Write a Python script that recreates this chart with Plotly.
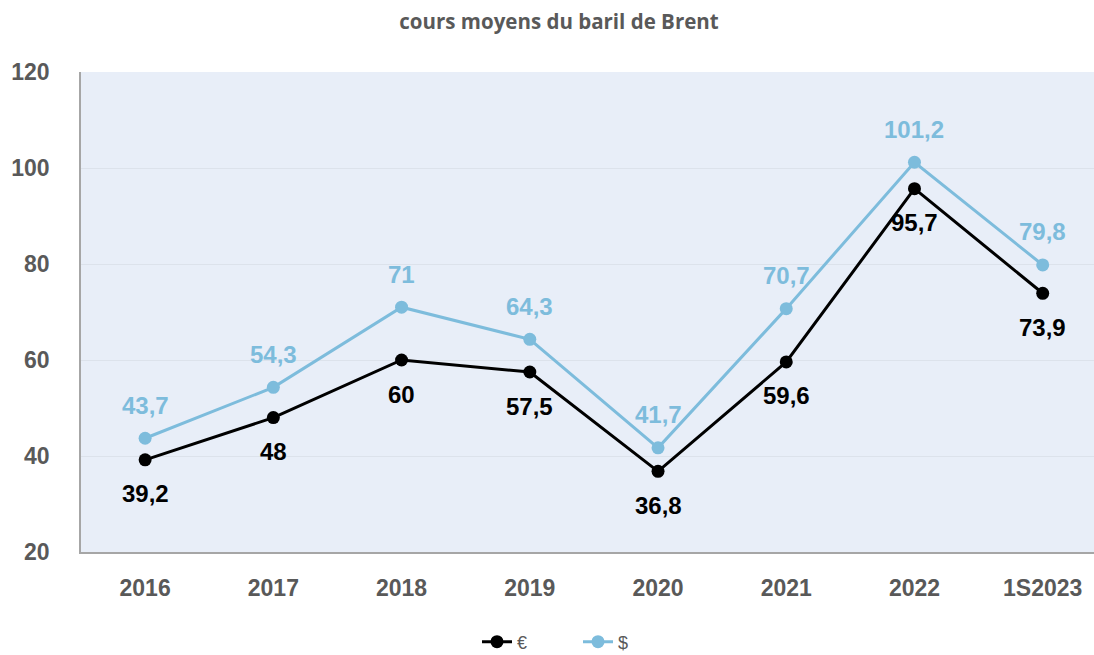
import plotly.graph_objects as go

categories = ["2016", "2017", "2018", "2019", "2020", "2021", "2022", "1S2023"]
eur_values = [39.2, 48, 60, 57.5, 36.8, 59.6, 95.7, 73.9]
usd_values = [43.7, 54.3, 71, 64.3, 41.7, 70.7, 101.2, 79.8]
y_ticks = [20, 40, 60, 80, 100, 120]

EUR_COLOR = "#000000"
USD_COLOR = "#7DBCDC"
GREY = "#595959"
FONT = "Liberation Sans, Arial"

W, H = 1094, 655
L, T, B = 81, 72, 103


def fmt(v):
    return f"{v:g}".replace(".", ",")


fig = go.Figure()
fig.add_trace(go.Scatter(
    x=categories, y=eur_values, name="€", mode="lines+markers",
    line=dict(color=EUR_COLOR, width=3),
    marker=dict(color=EUR_COLOR, size=13),
    hoverinfo="skip",
))
fig.add_trace(go.Scatter(
    x=categories, y=usd_values, name="$", mode="lines+markers",
    line=dict(color=USD_COLOR, width=3),
    marker=dict(color=USD_COLOR, size=13),
    hoverinfo="skip",
))

annotations = []
for i, v in enumerate(eur_values):
    annotations.append(dict(
        x=i, y=v, xref="x", yref="y", text="<b>" + fmt(v) + "</b>", showarrow=False,
        yshift=-34, font=dict(family=FONT, size=24, color=EUR_COLOR),
    ))
for i, v in enumerate(usd_values):
    annotations.append(dict(
        x=i, y=v, xref="x", yref="y", text="<b>" + fmt(v) + "</b>", showarrow=False,
        yshift=33, font=dict(family=FONT, size=24, color=USD_COLOR),
    ))

plot_h = H - T - B
plot_w = W - L

fig.update_layout(
    width=W, height=H,
    margin=dict(l=L, r=0, t=T, b=B, autoexpand=False),
    paper_bgcolor="white",
    plot_bgcolor="#E8EEF8",
    title=dict(
        text="<b>cours moyens du baril de Brent</b>",
        x=559 / W, xref="container", xanchor="center",
        y=1 - 22 / H, yref="container", yanchor="middle",
        font=dict(family="Open Sans", size=20.5, color=GREY),
    ),
    xaxis=dict(
        type="category", range=[-0.5, 7.4],
        showline=True, linecolor="#A6A6A6", linewidth=2,
        showgrid=False, ticks="", ticklabelstandoff=14,
        tickfont=dict(family=FONT, size=23, color=GREY, weight="bold"),
    ),
    yaxis=dict(
        range=[20, 120], tickvals=y_ticks, showline=True,
        linecolor="#A6A6A6", linewidth=1.5,
        showgrid=True, gridcolor="#DCE2EB", gridwidth=1,
        zeroline=False, ticks="", ticklabelstandoff=25,
        tickfont=dict(family=FONT, size=23, color=GREY, weight="bold"),
    ),
    legend=dict(
        orientation="h", x=(578 - L) / plot_w, xanchor="center",
        y=-90 / plot_h, yanchor="middle",
        font=dict(family=FONT, size=18, color=GREY),
        bgcolor="rgba(0,0,0,0)", entrywidth=56,
    ),
    annotations=annotations,
    showlegend=True,
)

fig.write_html(
    "out.html",
    config={"displayModeBar": False},
    post_script="document.body.style.margin='0px';document.body.style.overflow='hidden';",
)
